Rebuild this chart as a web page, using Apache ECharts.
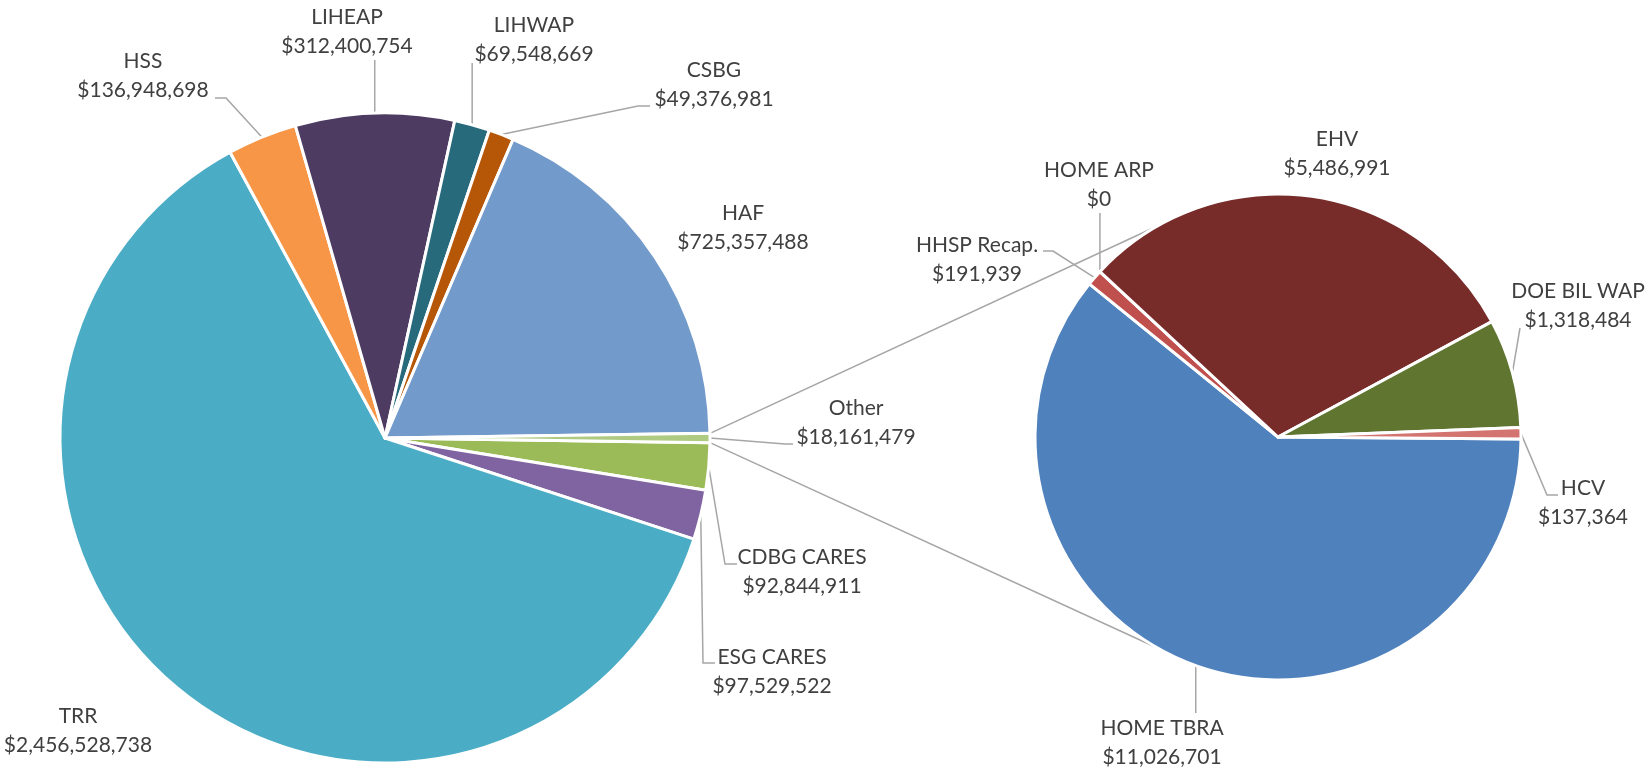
<!DOCTYPE html>
<html>
<head>
<meta charset="utf-8">
<script src="https://cdn.jsdelivr.net/npm/echarts@6/dist/echarts.min.js"></script>
<style>
  html, body { margin: 0; padding: 0; background: #ffffff; }
  #chart { width: 1648px; height: 771px; }
</style>
</head>
<body>
<div id="chart"></div>
<script>
// Main pie, listed clockwise starting just below 3 o'clock; "Other" closes the circle.
const mainNames = ['CDBG CARES', 'ESG CARES', 'TRR', 'HSS', 'LIHEAP', 'LIHWAP', 'CSBG', 'HAF', 'Other'];
const mainValues = [92844911, 97529522, 2456528738, 136948698, 312400754, 69548669, 49376981, 725357488, 18161479];

// Breakdown of the "Other" slice, shown in the secondary pie.
const subNames = ['HOME TBRA', 'HHSP Recap.', 'HOME ARP', 'EHV', 'DOE BIL WAP', 'HCV'];
const subValues = [11026701, 191939, 0, 5486991, 1318484, 137364];

// Slice colours
const sliceColors = {
  'CDBG CARES': '#9BBB59', 'ESG CARES': '#8064A2', 'TRR': '#4BACC6', 'HSS': '#F79646',
  'LIHEAP': '#4D3B62', 'LIHWAP': '#276A7C', 'CSBG': '#B65708', 'HAF': '#729ACA',
  'Other': '#AFCB82',
  'HOME TBRA': '#4F81BD', 'HHSP Recap.': '#C0504D', 'HOME ARP': '#9BBB59', 'EHV': '#772C2A',
  'DOE BIL WAP': '#5F7530', 'HCV': '#D37470'
};

// Label block centres and leader-line bends (x: null follows the slice anchor).
const labelPlacement = {
  'HSS':         { x: 143,  y: 76,  guide: [{ x: 226, y: 98 }, { x: 215, y: 98 }] },
  'LIHEAP':      { x: 347,  y: 32,  guide: [{ x: null, y: 60 }] },
  'LIHWAP':      { x: 534,  y: 40,  guide: [{ x: null, y: 63 }] },
  'CSBG':        { x: 714,  y: 85,  guide: [{ x: 638, y: 106 }, { x: 650, y: 106 }] },
  'HAF':         { x: 743,  y: 228, guide: null },
  'Other':       { x: 856,  y: 423, guide: [{ x: 785, y: 444 }, { x: 793, y: 444 }] },
  'CDBG CARES':  { x: 802,  y: 572, guide: [{ x: 725, y: 564 }, { x: 737, y: 564 }] },
  'ESG CARES':   { x: 772,  y: 672, guide: [{ x: 703, y: 663 }, { x: 715, y: 663 }] },
  'TRR':         { x: 78,   y: 731, guide: null },
  'HOME ARP':    { x: 1099, y: 185, guide: [{ x: null, y: 213 }] },
  'HHSP Recap.': { x: 977,  y: 260, guide: [{ x: 1053, y: 251 }, { x: 1043, y: 251 }] },
  'EHV':         { x: 1337, y: 154, guide: null },
  'DOE BIL WAP': { x: 1578, y: 306, guide: [{ x: 1520, y: 328 }] },
  'HCV':         { x: 1583, y: 503, guide: [{ x: 1547, y: 495 }, { x: 1558, y: 495 }] },
  'HOME TBRA':   { x: 1162, y: 743, guide: [{ x: null, y: 713 }] }
};

const TEXT_COLOR = '#404040';
const GUIDE_COLOR = '#A6A6A6';
const FONT = 'Lato, "Open Sans", sans-serif';

const mainTotal = mainValues.reduce((a, b) => a + b, 0);
const otherSweep = mainValues[mainValues.length - 1] / mainTotal * 360;

function buildItems(names, values) {
  return names.map((n, i) => ({
    name: n,
    value: values[i],
    itemStyle: { color: sliceColors[n] },
    labelLine: { show: !!labelPlacement[n].guide }
  }));
}

function labelLayoutFor(names) {
  return function (params) {
    const name = names[params.dataIndex];
    const p = labelPlacement[name];
    const out = { x: p.x, y: p.y, align: 'center', verticalAlign: 'middle' };
    if (p.guide && params.labelLinePoints && params.labelLinePoints.length) {
      const a = params.labelLinePoints[0];
      const pts = [[a[0], a[1]]];
      p.guide.forEach(g => pts.push([g.x == null ? a[0] : g.x, g.y]));
      out.labelLinePoints = pts;
    }
    return out;
  };
}

const labelStyle = {
  show: true,
  position: 'outside',
  formatter: p => p.name + '\n$' + p.value.toLocaleString('en-US'),
  color: TEXT_COLOR,
  fontFamily: FONT,
  fontSize: 21,
  lineHeight: 29
};

const chart = echarts.init(document.getElementById('chart'), null, { renderer: 'canvas' });

chart.setOption({
  backgroundColor: '#ffffff',
  animation: false,
  series: [
    {
      type: 'pie',
      center: [385, 438],
      radius: 325,
      startAngle: -otherSweep / 2,
      clockwise: true,
      avoidLabelOverlap: false,
      minAngle: 0,
      data: buildItems(mainNames, mainValues),
      itemStyle: { borderColor: '#ffffff', borderWidth: 3 },
      label: labelStyle,
      labelLine: { show: true, smooth: false, lineStyle: { color: GUIDE_COLOR, width: 1.5 } },
      labelLayout: labelLayoutFor(mainNames),
      emphasis: { disabled: true },
      z: 2
    },
    {
      type: 'pie',
      center: [1278, 437],
      radius: 243,
      startAngle: -0.5,
      clockwise: true,
      avoidLabelOverlap: false,
      minAngle: 0,
      data: buildItems(subNames, subValues),
      itemStyle: { borderColor: '#ffffff', borderWidth: 3 },
      label: labelStyle,
      labelLine: { show: true, smooth: false, lineStyle: { color: GUIDE_COLOR, width: 1.5 } },
      labelLayout: labelLayoutFor(subNames),
      emphasis: { disabled: true },
      z: 2
    }
  ]
});

// Connector lines from the edges of "Other" to the secondary pie.
(function drawConnectors() {
  const model = chart.getModel();
  const otherLayout = model.getSeriesByIndex(0).getData().getItemLayout(mainNames.length - 1);
  const subLayout = model.getSeriesByIndex(1).getData().getItemLayout(0);
  const pA = [otherLayout.cx + otherLayout.r * Math.cos(otherLayout.startAngle),
              otherLayout.cy + otherLayout.r * Math.sin(otherLayout.startAngle)];
  const pB = [otherLayout.cx + otherLayout.r * Math.cos(otherLayout.endAngle),
              otherLayout.cy + otherLayout.r * Math.sin(otherLayout.endAngle)];
  const upper = pA[1] < pB[1] ? pA : pB;
  const lower = pA[1] < pB[1] ? pB : pA;
  const meet = 119.6 * Math.PI / 180;
  const qUp = [subLayout.cx + subLayout.r * Math.cos(meet), subLayout.cy - subLayout.r * Math.sin(meet)];
  const qLo = [subLayout.cx + subLayout.r * Math.cos(meet), subLayout.cy + subLayout.r * Math.sin(meet)];
  const line = (a, b) => ({
    type: 'line', z: 1, silent: true,
    shape: { x1: a[0], y1: a[1], x2: b[0], y2: b[1] },
    style: { stroke: GUIDE_COLOR, lineWidth: 1.5 }
  });
  chart.setOption({ graphic: [line(upper, qUp), line(lower, qLo)] });
})();
</script>
</body>
</html>
